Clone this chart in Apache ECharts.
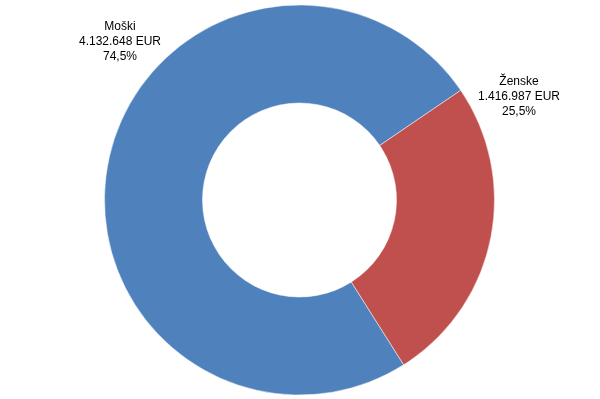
<!DOCTYPE html>
<html>
<head>
<meta charset="utf-8">
<script src="https://cdn.jsdelivr.net/npm/echarts@6/dist/echarts.min.js"></script>
<style>html,body{margin:0;padding:0;background:#fff;}#c{width:600px;height:399px;}</style>
</head>
<body>
<div id="c"></div>
<script>
var categories = ['Moški', 'Ženske'];
var values = [4132648, 1416987];
var colors = ['#4F81BD', '#C0504D'];
var labelPos = [[120, 42], [519, 97]];

function fmtNum(v) {
  return String(v).replace(/\B(?=(\d{3})+(?!\d))/g, '.');
}
var total = values.reduce(function (a, b) { return a + b; }, 0);

var chart = echarts.init(document.getElementById('c'));
chart.setOption({
  animation: false,
  backgroundColor: '#fff',
  series: [{
    type: 'pie',
    center: [299.5, 200],
    radius: [97, 195],
    startAngle: 302.3,
    clockwise: true,
    avoidLabelOverlap: false,
    data: categories.map(function (c, i) {
      return { name: c, value: values[i], itemStyle: { color: colors[i] } };
    }),
    itemStyle: { borderColor: '#fff', borderWidth: 0.5 },
    label: {
      show: true,
      position: 'outside',
      fontFamily: 'Liberation Sans, Arial, sans-serif',
      fontSize: 12,
      lineHeight: 15,
      color: '#000',
      align: 'center',
      formatter: function (p) {
        return p.name + '\n' + fmtNum(p.value) + ' EUR\n' + (p.value / total * 100).toFixed(1).replace('.', ',') + '%';
      }
    },
    labelLine: { show: false },
    labelLayout: function (p) {
      var pos = labelPos[p.dataIndex];
      return { x: pos[0], y: pos[1], align: 'center', verticalAlign: 'middle' };
    },
    emphasis: { disabled: true }
  }]
});
</script>
</body>
</html>
